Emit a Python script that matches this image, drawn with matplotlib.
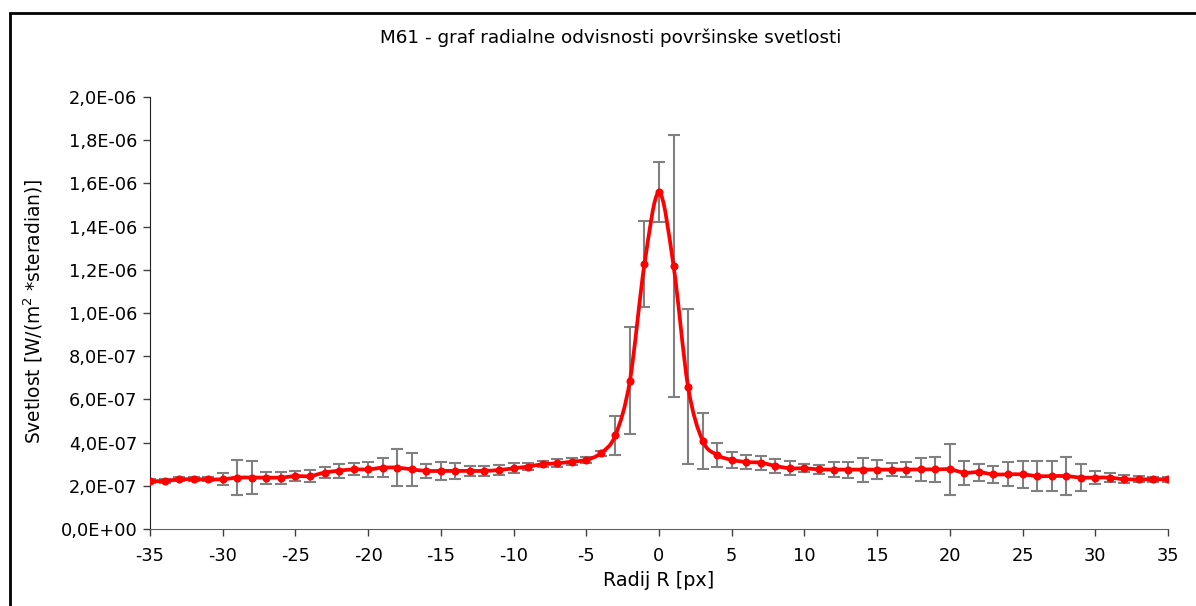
import numpy as np
import matplotlib
matplotlib.use("Agg")
import matplotlib.pyplot as plt
from matplotlib.path import Path
from matplotlib.patches import PathPatch, Rectangle

# ---- data (values in units of 1e-7 W/(m^2 sr)) ----
radius = list(range(-35, 36))
brightness_e7 = [
    2.22, 2.22, 2.30, 2.30, 2.30, 2.30, 2.38, 2.38, 2.38, 2.38,   # -35..-26
    2.45, 2.45, 2.61, 2.70, 2.76, 2.76, 2.84, 2.84, 2.76, 2.69,   # -25..-16
    2.69, 2.69, 2.69, 2.69, 2.73, 2.81, 2.89, 3.00, 3.04, 3.12,   # -15..-6
    3.20, 3.51, 4.34, 6.87, 12.26, 15.58, 12.18, 6.58, 4.09, 3.43,  # -5..4
    3.20, 3.10, 3.07, 2.92, 2.81, 2.81, 2.76, 2.75, 2.75, 2.75,   # 5..14
    2.75, 2.75, 2.75, 2.76, 2.76, 2.76, 2.61, 2.63, 2.53, 2.53,   # 15..24
    2.53, 2.45, 2.45, 2.45, 2.38, 2.38, 2.38, 2.30, 2.30, 2.30,   # 25..34
    2.30,                                                         # 35
]
error_e7 = [
    0.08, 0.08, 0.10, 0.10, 0.10, 0.27, 0.81, 0.78, 0.28, 0.28,
    0.25, 0.27, 0.25, 0.33, 0.28, 0.33, 0.45, 0.87, 0.75, 0.31,
    0.42, 0.36, 0.24, 0.24, 0.23, 0.23, 0.15, 0.15, 0.19, 0.17,
    0.13, 0.12, 0.90, 2.46, 1.98, 1.39, 6.06, 3.59, 1.30, 0.56,
    0.38, 0.33, 0.32, 0.32, 0.32, 0.18, 0.22, 0.35, 0.37, 0.56,
    0.44, 0.29, 0.33, 0.54, 0.58, 1.17, 0.56, 0.39, 0.39, 0.56,
    0.64, 0.68, 0.71, 0.87, 0.64, 0.29, 0.19, 0.19, 0.14, 0.12,
    0.12,
]
ytick_values = [0.0, 2e-7, 4e-7, 6e-7, 8e-7, 1e-6, 1.2e-6, 1.4e-6, 1.6e-6, 1.8e-6, 2e-6]
ytick_labels = ["0,0E+00", "2,0E-07", "4,0E-07", "6,0E-07", "8,0E-07", "1,0E-06",
                "1,2E-06", "1,4E-06", "1,6E-06", "1,8E-06", "2,0E-06"]
xtick_values = list(range(-35, 36, 5))

title = "M61 - graf radialne odvisnosti površinske svetlosti"
xlabel = "Radij R [px]"
ylabel = r"Svetlost [W/(m$^2$ *steradian)]"

x = np.array(radius, dtype=float)
y = np.array(brightness_e7) * 1e-7
err = np.array(error_e7) * 1e-7

plt.rcParams['font.family'] = ['DejaVu Sans']
FS = 12.8

fig = plt.figure(figsize=(11.96, 6.06), dpi=100)
W, H = 1196, 606
ax = fig.add_axes([150 / W, 1 - 529 / H, (1168 - 150) / W, (529 - 97) / H])

# chart-area border (extends beyond right/bottom edge like the reference)
fig.patches.append(Rectangle((10 / W, -0.05), 1.1, 1 - 13 / H + 0.05,
                             transform=fig.transFigure, fill=False,
                             edgecolor='black', linewidth=2.0))

# error bars
ax.errorbar(x, y, yerr=err, fmt='none', ecolor='#808080', elinewidth=1.5,
            capsize=4.5, capthick=1.5, zorder=2)

# Excel-like smoothed line (Bezier segments through data points)
P = np.column_stack([x, y])
n = len(P)
verts = [tuple(P[0])]
codes = [Path.MOVETO]
for i in range(n - 1):
    p0 = P[i - 1] if i > 0 else P[i]
    p1 = P[i]
    p2 = P[i + 1]
    p3 = P[i + 2] if i + 2 < n else P[i + 1]
    c1 = p1 + (p2 - p0) / 6.0
    c2 = p2 - (p3 - p1) / 6.0
    verts += [tuple(c1), tuple(c2), tuple(p2)]
    codes += [Path.CURVE4] * 3
ax.add_patch(PathPatch(Path(verts, codes), facecolor='none', edgecolor='#ff0000',
                       linewidth=2.7, zorder=3, capstyle='round', joinstyle='round'))
ax.plot(x, y, linestyle='none', marker='o', markersize=4.8, color='#ff0000', zorder=4)

ax.set_xlim(-35, 35)
ax.set_ylim(0, 2e-6)
ax.set_xticks(xtick_values)
ax.set_xticklabels([str(v) for v in xtick_values], fontsize=FS)
ax.set_yticks(ytick_values)
ax.set_yticklabels(ytick_labels, fontsize=FS)
ax.tick_params(axis='both', direction='out', length=5, width=1, color='#404040', pad=4)
ax.tick_params(axis='x', pad=8)
for s in ['top', 'right']:
    ax.spines[s].set_visible(False)
ax.spines['left'].set_color('#202020')
ax.spines['bottom'].set_color('#606060')

fig.text(611 / W, 1 - 38 / H, title, ha='center', va='center', fontsize=13.2)
fig.text(659 / W, 1 - 580 / H, xlabel, ha='center', va='center', fontsize=13.8)
fig.text(33 / W, 1 - 311 / H, ylabel, ha='center', va='center', rotation=90, fontsize=13.4)

fig.savefig('out.png', dpi=100)
